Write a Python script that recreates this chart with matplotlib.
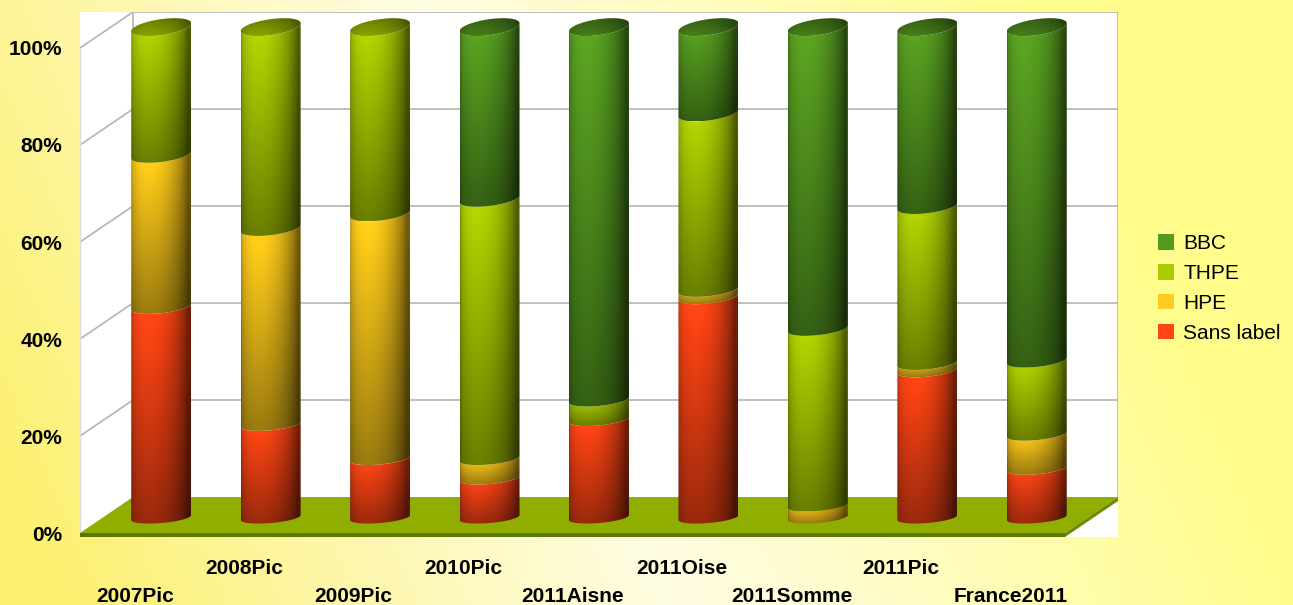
import numpy as np
import matplotlib
matplotlib.use("Agg")
import matplotlib.pyplot as plt
from matplotlib.patches import Polygon, Patch

plt.rcParams['font.family'] = ['Liberation Sans', 'DejaVu Sans']

# ---------------- data ----------------
categories = ["2007Pic", "2008Pic", "2009Pic", "2010Pic", "2011Aisne",
              "2011Oise", "2011Somme", "2011Pic", "France2011"]
sans_label = [43, 19, 12, 8, 20, 45, 0, 30, 10]
hpe = [31, 40, 50, 4, 0, 1.5, 2.5, 1.5, 7]
thpe = [26, 41, 38, 53, 4, 36, 36, 32, 15]
bbc = [0, 0, 0, 35, 76, 17.5, 61.5, 36.5, 68]
series_names = ["Sans label", "HPE", "THPE", "BBC"]
y_ticks = [0, 20, 40, 60, 80, 100]
y_tick_labels = ["0%", "20%", "40%", "60%", "80%", "100%"]

# ---------------- style ----------------
series_values = [sans_label, hpe, thpe, bbc]
series_colors = [(1.0, 0.27, 0.08), (1.0, 0.80, 0.10), (0.69, 0.82, 0.0), (0.35, 0.63, 0.13)]
legend_colors = ["#ff4514", "#ffcc22", "#aacc00", "#559a20"]

W, H = 1293, 605
fig = plt.figure(figsize=(W / 100, H / 100), dpi=100)

# background gradient
bg = fig.add_axes([0, 0, 1, 1], zorder=-10)
yy, xx = np.mgrid[0:H:2, 0:W:2]
center = 420 + 260 * (yy / H)
d = (xx - center)
fac = np.clip(np.abs(d) / 620.0, 0, 1) ** 1.1
pale = np.array([255, 253, 226]) / 255
yl = np.array([252, 240, 112]) / 255
yr = np.array([255, 252, 140]) / 255
ycol = np.where(d[..., None] < 0, yl, yr)
img = pale + (ycol - pale) * fac[..., None]
bg.imshow(img, extent=[0, 1, 0, 1], aspect='auto', origin='upper', interpolation='bilinear')
bg.axis('off')

# geometry (data units: x in categories, y in percent)
X0, X1 = -0.5, 8.5          # front plane extent
DDX, DDY = 0.4843, 7.42     # depth offset
FT = 0.82                   # floor thickness
CYL_Y0, CYL_SCALE = 3.2, 1.011
A = 0.274                   # cylinder half width
PX = 4.85                   # px per percent

ax_left, ax_right, ax_bot, ax_top = 80, 1118, 537, 12
ax = fig.add_axes([ax_left / W, (H - ax_bot) / H, (ax_right - ax_left) / W, (ax_bot - ax_top) / H])
ax.set_facecolor('white')
for s in ax.spines.values():
    s.set_visible(False)

grid_c = '#b4b4b4'
for v in y_ticks[1:]:
    ax.plot([X0 + DDX, X1 + DDX], [v + DDY] * 2, color=grid_c, lw=1.2, zorder=1)
    ax.plot([X0, X0 + DDX], [v, v + DDY], color=grid_c, lw=1.2, zorder=1)
ax.plot([X0 + DDX] * 2, [DDY, 100 + DDY], color=grid_c, lw=1.2, zorder=1)
ax.plot([X1 + DDX] * 2, [DDY, 100 + DDY], color=grid_c, lw=1.2, zorder=1)
ax.plot([X0] * 2, [0, 100], color='#dddddd', lw=1.0, zorder=1)

# floor
ax.add_patch(Polygon([(X0, 0), (X0 + DDX, DDY), (X1 + DDX, DDY), (X1, 0)],
                     closed=True, facecolor='#8fae00', edgecolor='none', zorder=2))
ax.add_patch(Polygon([(X0, 0), (X1, 0), (X1, -FT), (X0, -FT)],
                     closed=True, facecolor='#5c7600', edgecolor='none', zorder=2))
ax.add_patch(Polygon([(X1, 0), (X1 + DDX, DDY), (X1 + DDX, DDY - FT), (X1, -FT)],
                     closed=True, facecolor='#6d8a00', edgecolor='none', zorder=2))


def qb(v):
    q = (2.5 + 1.5 * v / 100.0) / PX
    b = (5.5 + 2.5 * v / 100.0) / PX
    return q, b


def hshade(u):
    phi = np.arcsin(np.clip(2 * u - 1, -1, 1))
    alpha = np.deg2rad(25)
    return 0.45 + 0.6 * np.maximum(0, np.cos(phi + alpha))


t_front = np.linspace(np.pi, 2 * np.pi, 60)
t_full = np.linspace(0, 2 * np.pi, 120)
nu, nv = 80, 80
uu = np.linspace(0, 1, nu)
ss = np.linspace(0, 1, nv)


def draw_segment(cx, v0, v1, color, z):
    cy0 = CYL_Y0 + v0 * CYL_SCALE
    cy1 = CYL_Y0 + v1 * CYL_SCALE
    q0, b0 = qb(v0)
    q1, b1 = qb(v1)
    xb = cx + A * np.cos(t_front)
    yb = cy0 + q0 * np.cos(t_front) + b0 * np.sin(t_front)
    xt = cx + A * np.cos(t_front[::-1])
    yt = cy1 + q1 * np.cos(t_front[::-1]) + b1 * np.sin(t_front[::-1])
    pts = np.column_stack([np.concatenate([xb, xt]), np.concatenate([yb, yt])])
    poly = Polygon(pts, closed=True, facecolor='none', edgecolor='none', transform=ax.transData)
    ylo = yb.min()
    yhi = yt.max()
    f = 0.58 + 0.42 * ss
    shade = f[:, None] * hshade(uu)[None, :]
    im_arr = np.clip(np.array(color)[None, None, :] * shade[..., None], 0, 1)
    im = ax.imshow(im_arr, extent=[cx - A, cx + A, ylo, yhi], origin='lower',
                   aspect='auto', interpolation='bilinear', zorder=z)
    im.set_clip_path(poly)


def draw_cap(cx, v, color, z):
    cy = CYL_Y0 + v * CYL_SCALE
    q, b = qb(v)
    xe = cx + A * np.cos(t_full)
    ye = cy + q * np.cos(t_full) + b * np.sin(t_full)
    poly = Polygon(np.column_stack([xe, ye]), closed=True, facecolor='none',
                   edgecolor='none', transform=ax.transData)
    sv = np.linspace(0, 1, nv)
    f = 0.85 - 0.2 * sv
    shade = f[:, None] * (0.35 + 0.55 * hshade(uu))[None, :]
    im_arr = np.clip(np.array(color)[None, None, :] * shade[..., None], 0, 1)
    im = ax.imshow(im_arr, extent=[cx - A, cx + A, ye.min(), ye.max()], origin='lower',
                   aspect='auto', interpolation='bilinear', zorder=z + 1)
    im.set_clip_path(poly)


for i in range(len(categories)):
    cx = i + DDX / 2
    base = 0.0
    top_color = None
    for k, vals in enumerate(series_values):
        v = vals[i]
        if v <= 0:
            continue
        draw_segment(cx, base, base + v, series_colors[k], 5 + k)
        base += v
        top_color = series_colors[k]
    draw_cap(cx, base, top_color, 10)

ax.set_xlim(X0, X1 + DDX)
ax.set_ylim(-FT, 100 + DDY)

ax.set_yticks(y_ticks, y_tick_labels)
ax.tick_params(axis='y', length=0, pad=13, labelsize=15)
for lbl in ax.get_yticklabels():
    lbl.set_fontweight('bold')
ax.set_xticks([])

row_y = [-14.23, -8.45]
for i, name in enumerate(categories):
    ax.text(i, row_y[i % 2], name, ha='center', va='baseline', fontsize=15,
            fontweight='bold', clip_on=False)

handles = [Patch(facecolor=legend_colors[k], edgecolor='none') for k in [3, 2, 1, 0]]
labels = [series_names[k] for k in [3, 2, 1, 0]]
fig.legend(handles, labels, loc='center left', bbox_to_anchor=(1158 / W, (H - 288.5) / H),
           frameon=False, fontsize=15, handlelength=0.77, handleheight=0.77,
           handletextpad=0.43, labelspacing=0.52, borderpad=0, borderaxespad=0)

fig.savefig('out.png', dpi=100)
